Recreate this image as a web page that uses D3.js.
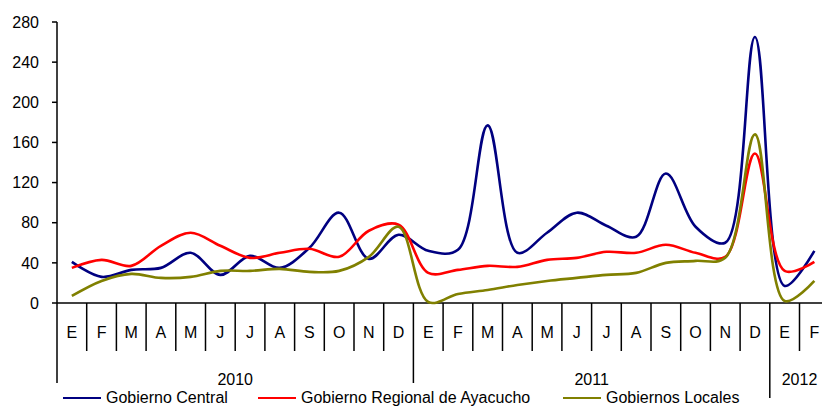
<!DOCTYPE html>
<html><head><meta charset="utf-8">
<script src="https://cdn.jsdelivr.net/npm/d3@7"></script>
<style>body{margin:0;background:#fff;overflow:hidden}svg{display:block;font-family:"Liberation Sans",Arial,sans-serif}</style>
</head><body>
<script>
const months = ["E","F","M","A","M","J","J","A","S","O","N","D","E","F","M","A","M","J","J","A","S","O","N","D","E","F"];
const years = [{label:"2010", start:0, end:12},{label:"2011", start:12, end:24},{label:"2012", start:24, end:26}];
const yTicks = [0,40,80,120,160,200,240,280];
const central = [41,26,33,35,50,28,47,35,55,90,44,68, 52,53,177,50,70,90,77,66,129,76,60,265, 17,52];
const regional = [35,43,37,57,70,57,45,50,54,46,72,78, 30,33,37,36,43,45,51,50,58,50,46,149, 32,41];
const locales = [7,22,29,25,26,32,32,34,31,32,46,76, 1,9,13,18,22,25,28,30,40,42,45,168, 2,22];
const seriesNames = ["Gobierno Central","Gobierno Regional de Ayacucho","Gobiernos Locales"];
const colors = ["#000080","#ff0000","#808000"];

const W=822,H=408;
const svg=d3.select("body").append("svg").attr("width",W).attr("height",H);
const x0=57, bw=29.7;
const x=d3.scaleLinear().domain([0,26]).range([x0, x0+26*bw]);
const y=d3.scaleLinear().domain([0,280]).range([303,22]);

// y axis
svg.append("line").attr("x1",x0).attr("x2",x0).attr("y1",y(280)).attr("y2",y(0)).attr("stroke","#000").attr("stroke-width",1.5);
yTicks.forEach(t=>{
  svg.append("line").attr("x1",x0-5).attr("x2",x0).attr("y1",y(t)).attr("y2",y(t)).attr("stroke","#000").attr("stroke-width",1.5);
  svg.append("text").attr("x",39).attr("y",y(t)).attr("dy","0.36em").attr("text-anchor","end").attr("font-size",16).attr("fill","#000").text(t);
});
// x axis
svg.append("line").attr("x1",x0).attr("x2",x(26)).attr("y1",y(0)).attr("y2",y(0)).attr("stroke","#000").attr("stroke-width",1.5);
for(let i=0;i<=26;i++){
  let y2=351;
  if(i===0||i===12) y2=383;
  if(i===24) y2=398;
  svg.append("line").attr("x1",x(i)).attr("x2",x(i)).attr("y1",y(0)).attr("y2",y2).attr("stroke","#000").attr("stroke-width",1.5);
}
months.forEach((m,i)=>{
  svg.append("text").attr("x",x(i+0.5)).attr("y",332).attr("dy","0.36em").attr("text-anchor","middle").attr("font-size",16).attr("fill","#000").text(m);
});
years.forEach(yr=>{
  svg.append("text").attr("x",(x(yr.start)+x(yr.end))/2).attr("y",379).attr("dy","0.36em").attr("text-anchor","middle").attr("font-size",16).attr("fill","#000").text(yr.label);
});

// lines
const line=d3.line().x((d,i)=>x(i+0.5)).y(d=>y(d)).curve(d3.curveCatmullRom.alpha(0.5));
[central,regional,locales].forEach((s,k)=>{
  svg.append("path").datum(s).attr("d",line).attr("fill","none").attr("stroke",colors[k]).attr("stroke-width",2.6).attr("stroke-linejoin","round");
});

// legend
const legX=[63,258,563];
seriesNames.forEach((n,k)=>{
  svg.append("line").attr("x1",legX[k]).attr("x2",legX[k]+38).attr("y1",398).attr("y2",398).attr("stroke",colors[k]).attr("stroke-width",2);
  svg.append("text").attr("x",legX[k]+43).attr("y",397).attr("dy","0.36em").attr("font-size",16).attr("fill","#000").text(n);
});
</script>
</body></html>
